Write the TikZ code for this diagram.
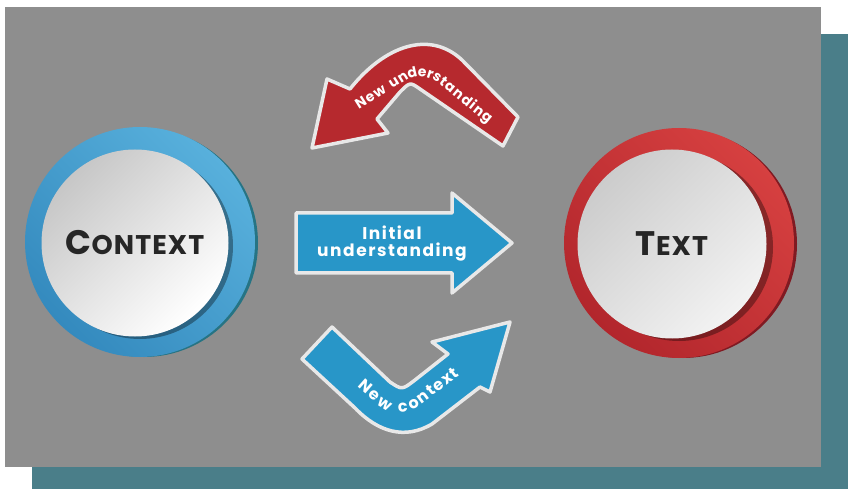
\documentclass[tikz,border=0pt]{standalone}
\usepackage{fontspec}
\newfontfamily\labelfont[LetterSpace=4]{Poppins}
\newfontfamily\arrowfont[LetterSpace=9]{Poppins}
\usetikzlibrary{decorations.text}

\definecolor{panelgray}{RGB}{142,142,142}
\definecolor{panelteal}{RGB}{74,126,137}
\definecolor{ctxlight}{RGB}{88,176,220}
\definecolor{ctxdark}{RGB}{52,138,190}
\definecolor{ctxshadow}{RGB}{38,116,132}
\definecolor{arrowblue}{RGB}{40,150,200}
\definecolor{txtlight}{RGB}{214,64,64}
\definecolor{txtdark}{RGB}{178,38,44}
\definecolor{txtshadow}{RGB}{128,26,34}
\definecolor{rim}{RGB}{232,232,232}

\tikzset{
  disc/.style={circle, minimum size=187pt, inner sep=0pt, text=black!85,
    font=\labelfont\bfseries},
  rimline/.style={draw=rim, line width=3.5pt, line join=round},
}

\begin{document}
\begin{tikzpicture}[x=1pt, y=-1pt]
  \useasboundingbox (0,0) rectangle (852,489);
  \fill[panelteal] (32,34) rectangle (848,489);
  \fill[panelgray] (5,7) rectangle (821,467);

  % context
  \fill[ctxshadow] (144,243) circle (114pt);
  \shade[top color=ctxlight, bottom color=ctxdark, shading angle=-45] (140,242) circle (115pt);
  \fill[black, opacity=.35] (140,246) circle (93pt);
  \node[disc, top color=black!22, bottom color=white, shading angle=45] (context) at (135,243)
    {{\fontsize{34}{34}\selectfont C}{\fontsize{27}{27}\selectfont ONTEXT}};

  % text
  \fill[txtshadow] (683,244) circle (114pt);
  \shade[top color=txtlight, bottom color=txtdark, shading angle=-45] (679,243) circle (115pt);
  \fill[black, opacity=.35] (679,247) circle (94pt);
  \node[disc, minimum size=189pt, top color=black!20, bottom color=black!5, shading angle=45] (text) at (672,244)
    {{\fontsize{34}{34}\selectfont T}{\fontsize{27}{27}\selectfont EXT}};

  % initial understanding
  \draw[rimline, fill=arrowblue] (296,213) -- (452,213) -- (452,193) -- (512,243)
    -- (452,293) -- (452,273) -- (296,273) -- cycle;
  \node[align=center, text=white, font=\arrowfont\bfseries\fontsize{17}{17}\selectfont]
    (initial) at (392,244) {Initial\\understanding};

  % new understanding
  \draw[rimline, fill=txtdark!90!txtlight] (312,148) -- (327,79) -- (350,89)
    .. controls (385,45) and (430,30) .. (462,60) -- (518,117) -- (503,146) -- (420,89)
    .. controls (410,82) .. (400,92) -- (377,119) -- (388,133) -- cycle;
  \path[rounded corners=22pt, decorate, decoration={text along path, text align=center,
    text color=white, raise=-5pt,
    text={|\labelfont\bfseries\fontsize{14}{14}\selectfont\kern1.1pt|New understanding}}]
    (350,109) -- (422,64) -- (496,124);

  % new context
  \draw[rimline, fill=arrowblue] (332,327) -- (302,359) -- (355,408)
    .. controls (378,432) and (405,440) .. (432,424) -- (480,387) -- (490,392) -- (510,322)
    -- (432,342) -- (448,354) -- (415,380) .. controls (402,390) .. (390,382) -- cycle;
  \path[rounded corners=22pt, decorate, decoration={text along path, text align=center,
    text color=white, raise=-5.5pt,
    text={|\labelfont\bfseries\fontsize{16}{16}\selectfont\kern1.2pt|New context}}]
    (348,371) -- (398,415) -- (470,361);
\end{tikzpicture}
\end{document}
